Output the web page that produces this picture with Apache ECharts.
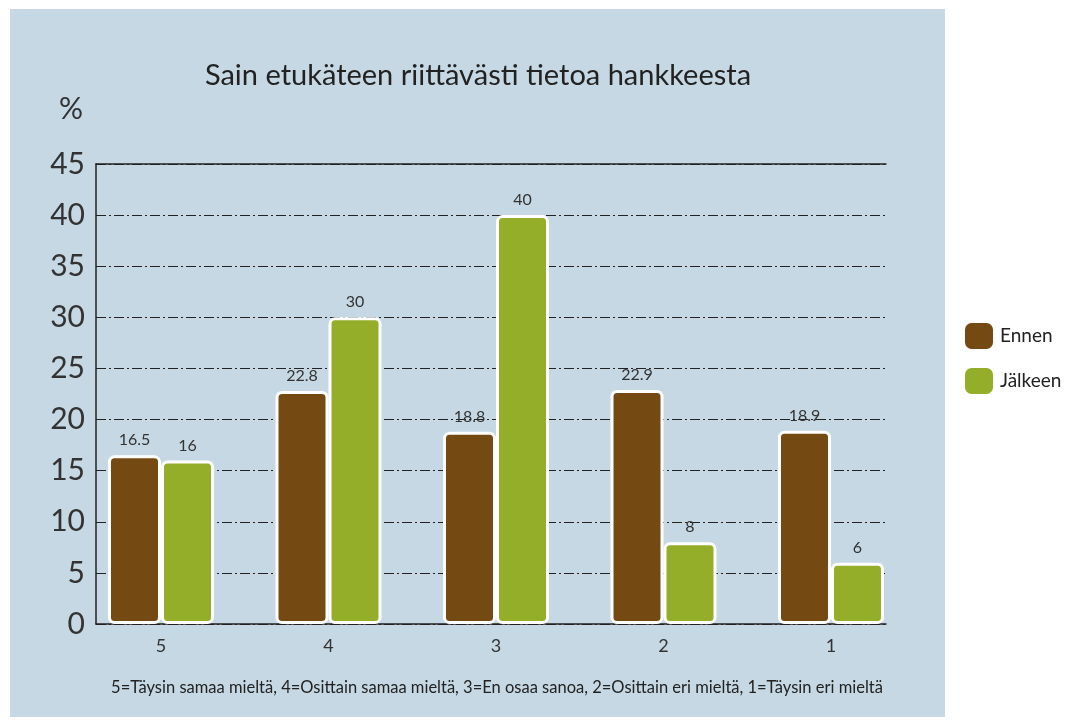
<!DOCTYPE html>
<html>
<head>
<meta charset="utf-8">
<script src="https://cdn.jsdelivr.net/npm/echarts@6/dist/echarts.min.js"></script>
<style>
html,body{margin:0;padding:0;background:#fff;}
#chart{width:1090px;height:726px;}
</style>
</head>
<body>
<div id="chart"></div>
<script>
const categories = ['5', '4', '3', '2', '1'];
const ennen = [16.5, 22.8, 18.8, 22.9, 18.9];
const jalkeen = [16, 30, 40, 8, 6];
const yTicks = { min: 0, max: 45, interval: 5 };
const title = 'Sain etukäteen riittävästi tietoa hankkeesta';
const footnote = '5=Täysin samaa mieltä, 4=Osittain samaa mieltä, 3=En osaa sanoa, 2=Osittain eri mieltä, 1=Täysin eri mieltä';

const FONT = 'Lato, "Open Sans", sans-serif';
const chart = echarts.init(document.getElementById('chart'), null, { renderer: 'canvas' });

const labelStyle = { show: true, position: 'top', distance: 7, fontSize: 16, color: '#333', fontFamily: FONT };
const barBase = {
  type: 'bar', xAxisIndex: 0, yAxisIndex: 0,
  barWidth: 53, barGap: '0%',
  label: labelStyle
};

chart.setOption({
  backgroundColor: '#ffffff',
  animation: false,
  textStyle: { fontFamily: FONT },
  graphic: [
    { type: 'rect', z: -10, shape: { x: 10, y: 9, width: 935, height: 708 }, style: { fill: '#C5D8E3' } },
    { type: 'text', left: 59, top: 94, style: { text: '%', fontSize: 30, fill: '#333', fontFamily: FONT } },
    { type: 'text', x: 497, y: 688, style: { text: footnote, fontSize: 16.5, fill: '#222', fontFamily: FONT, align: 'center', verticalAlign: 'middle' } }
  ],
  title: {
    text: title, left: 473, top: 56, textAlign: 'center',
    textStyle: { fontSize: 29, fontWeight: 'normal', color: '#222', fontFamily: FONT }
  },
  legend: {
    orient: 'vertical', left: 960, top: 318,
    itemWidth: 28, itemHeight: 26, itemGap: 19,
    icon: 'roundRect',
    itemStyle: { borderWidth: 0 },
    textStyle: { fontSize: 19, color: '#222', fontFamily: FONT, padding: [0, 0, 0, 2] },
    data: ['Ennen', 'Jälkeen']
  },
  grid: [
    { left: 77.25, width: 837.5, top: 164, height: 460 },
    { left: 96, width: 790, top: 164, height: 460 }
  ],
  xAxis: [
    {
      type: 'category', gridIndex: 0, data: categories,
      axisLine: { show: false }, axisTick: { show: false },
      axisLabel: { fontSize: 18, color: '#333', margin: 13, fontFamily: FONT }
    },
    {
      type: 'value', gridIndex: 1, min: 0, max: 1, position: 'bottom',
      axisLine: { show: true, lineStyle: { color: '#222', width: 1.5 } },
      axisTick: { show: false }, axisLabel: { show: false }, splitLine: { show: false }
    },
    {
      type: 'value', gridIndex: 1, min: 0, max: 1, position: 'top',
      axisLine: { show: true, lineStyle: { color: '#222', width: 1.5 } },
      axisTick: { show: false }, axisLabel: { show: false }, splitLine: { show: false }
    }
  ],
  yAxis: [
    {
      type: 'value', gridIndex: 0, min: yTicks.min, max: yTicks.max, interval: yTicks.interval,
      show: false
    },
    {
      type: 'value', gridIndex: 1, min: yTicks.min, max: yTicks.max, interval: yTicks.interval,
      axisLine: { show: true, lineStyle: { color: '#222', width: 1.5 } },
      axisTick: { show: false },
      axisLabel: { fontSize: 30, color: '#333', margin: 11, fontFamily: FONT },
      splitLine: { show: true, lineStyle: { color: '#222', width: 1, type: [10, 3, 2, 3] } }
    }
  ],
  series: [
    Object.assign({}, barBase, {
      name: 'Ennen', data: ennen,
      itemStyle: { color: '#744A12', borderColor: '#ffffff', borderWidth: 3, borderRadius: 5 }
    }),
    Object.assign({}, barBase, {
      name: 'Jälkeen', data: jalkeen,
      itemStyle: { color: '#95AE2A', borderColor: '#ffffff', borderWidth: 3, borderRadius: 5 }
    })
  ]
});
</script>
</body>
</html>
